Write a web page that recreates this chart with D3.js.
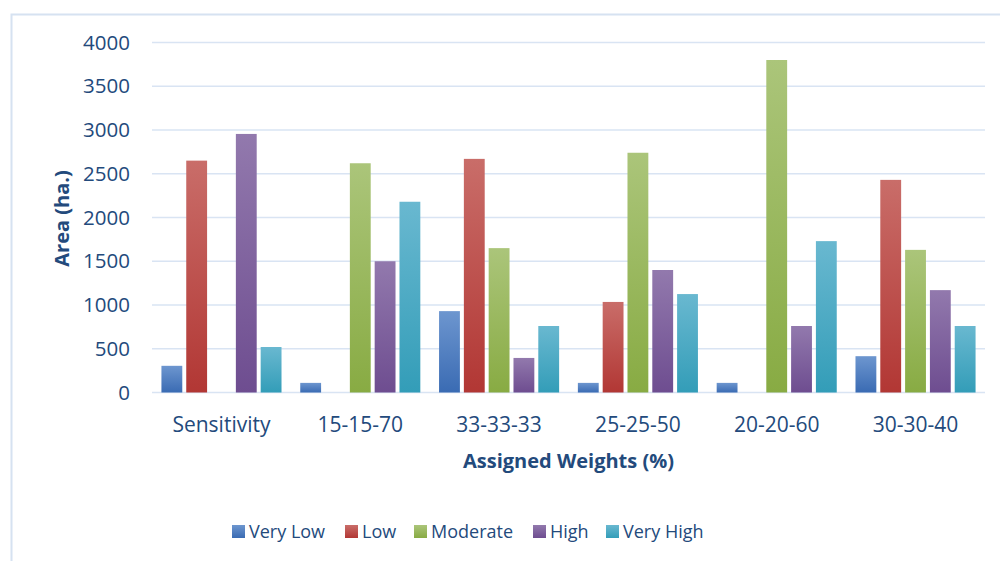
<!DOCTYPE html>
<html>
<head>
<meta charset="utf-8">
<script src="https://cdn.jsdelivr.net/npm/d3@7"></script>
<style>
  html, body { margin: 0; padding: 0; background: #fff; }
  svg { display: block; }
  text { font-family: "Open Sans", "Noto Sans", sans-serif; fill: #234a7c; }
</style>
</head>
<body>
<svg id="chart" width="1000" height="561"></svg>
<script>
// Area (ha.) per vulnerability class for each weighting scheme
const categories = ["Sensitivity", "15-15-70", "33-33-33", "25-25-50", "20-20-60", "30-30-40"];
const seriesNames = ["Very Low", "Low", "Moderate", "High", "Very High"];
const veryLow  = [305, 110, 930, 110, 110, 415];
const low      = [2650, 0, 2670, 1035, 0, 2430];
const moderate = [0, 2620, 1650, 2740, 3800, 1630];
const high     = [2955, 1500, 395, 1400, 760, 1170];
const veryHigh = [520, 2180, 760, 1125, 1730, 760];
const yTicks = [0, 500, 1000, 1500, 2000, 2500, 3000, 3500, 4000];

const seriesValues = [veryLow, low, moderate, high, veryHigh];
const colorTop    = ["#6d96cf", "#c96d69", "#abc57a", "#9279ad", "#69b8d0"];
const colorBottom = ["#3a6bb3", "#b23734", "#88ab43", "#6e4d90", "#339db8"];

const svg = d3.select("#chart");
const margin = { left: 152, right: 15, top: 42.5, bottom: 168.5 };
const W = 1000, H = 561;

// Outer frame
svg.append("path")
  .attr("d", `M11.5,${H} L11.5,14.5 L${W},14.5`)
  .attr("fill", "none")
  .attr("stroke", "#d6e2f1")
  .attr("stroke-width", 2);

const x0 = d3.scaleBand().domain(categories)
  .range([margin.left, W - margin.right])
  .paddingInner(0.135).paddingOuter(0.068);
const x1 = d3.scaleBand().domain(seriesNames)
  .range([0, x0.bandwidth()])
  .paddingInner(0.16);
const y = d3.scaleLinear().domain([0, 4000]).range([H - margin.bottom, margin.top]);

// Gradients
const defs = svg.append("defs");
seriesNames.forEach((s, i) => {
  const g = defs.append("linearGradient").attr("id", "grad" + i)
    .attr("x1", 0).attr("y1", 0).attr("x2", 0).attr("y2", 1);
  g.append("stop").attr("offset", "0%").attr("stop-color", colorTop[i]);
  g.append("stop").attr("offset", "100%").attr("stop-color", colorBottom[i]);
});

// Gridlines
svg.append("g").selectAll("line").data(yTicks).join("line")
  .attr("x1", margin.left).attr("x2", W - margin.right)
  .attr("y1", d => y(d)).attr("y2", d => y(d))
  .attr("stroke", "#d9e4f3").attr("stroke-width", 1.6);

// Y axis labels
const yAxis = svg.append("g")
  .attr("transform", `translate(${margin.left - 22},0)`)
  .call(d3.axisLeft(y).tickValues(yTicks).tickSize(0).tickPadding(0).tickFormat(d3.format("d")));
yAxis.select(".domain").remove();
yAxis.selectAll("text")
  .style("font-size", "20.5px")
  .style("font-family", "'Open Sans', sans-serif")
  .attr("fill", "#234a7c");

// X axis labels
const xAxis = svg.append("g")
  .attr("transform", `translate(0,${y(0) + 24.5})`)
  .call(d3.axisBottom(x0).tickSize(0).tickPadding(0));
xAxis.select(".domain").remove();
xAxis.selectAll("text")
  .style("font-size", "21px")
  .style("font-family", "'Open Sans', sans-serif")
  .attr("fill", "#234a7c");

// Bars
const groups = svg.append("g").selectAll("g").data(categories).join("g")
  .attr("transform", d => `translate(${x0(d)},0)`);
groups.selectAll("rect")
  .data((c, ci) => seriesNames.map((s, si) => ({ s, si, v: seriesValues[si][ci] })))
  .join("rect")
  .filter(d => d.v > 0)
  .attr("x", d => x1(d.s))
  .attr("width", x1.bandwidth())
  .attr("y", d => y(d.v))
  .attr("height", d => y(0) - y(d.v))
  .attr("fill", d => `url(#grad${d.si})`);

// Axis titles
svg.append("text")
  .attr("x", (margin.left + W - margin.right) / 2)
  .attr("y", 468)
  .attr("text-anchor", "middle")
  .style("font-size", "20px").style("font-weight", "bold")
  .text("Assigned Weights (%)");

svg.append("text")
  .attr("transform", `translate(69,${(y(0) + y(4000)) / 2 + 1}) rotate(-90)`)
  .attr("text-anchor", "middle")
  .style("font-size", "20px").style("font-weight", "bold")
  .text("Area (ha.)");

// Legend
const legendX = [232, 345, 414, 533, 606];
const legend = svg.append("g").selectAll("g").data(seriesNames).join("g")
  .attr("transform", (d, i) => `translate(${legendX[i]},525)`);
legend.append("rect").attr("width", 13).attr("height", 13)
  .attr("fill", (d, i) => `url(#grad${i})`);
legend.append("text").attr("x", 17).attr("y", 12.5)
  .style("font-size", "18px")
  .text(d => d);
</script>
</body>
</html>
